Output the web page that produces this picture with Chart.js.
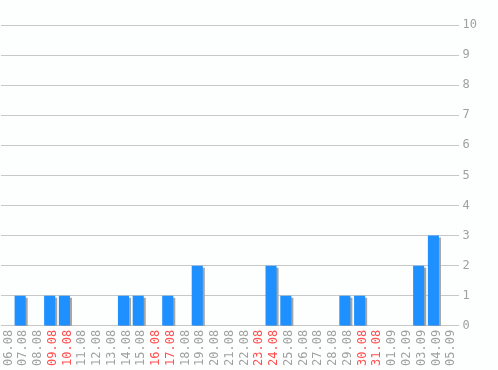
<!DOCTYPE html>
<html>
<head>
<meta charset="utf-8">
<script src="https://cdn.jsdelivr.net/npm/chart.js@4/dist/chart.umd.min.js"></script>
<style>
    html, body { margin: 0; padding: 0; background: #fdfefe; }
    #wrap { width: 498px; height: 370px; }
</style>
</head>
<body>
<div id="wrap"><canvas id="chart"></canvas></div>
<script>
// Days shown on the x axis
const days = ['06.08', '07.08', '08.08', '09.08', '10.08', '11.08', '12.08', '13.08',
    '14.08', '15.08', '16.08', '17.08', '18.08', '19.08', '20.08', '21.08', '22.08',
    '23.08', '24.08', '25.08', '26.08', '27.08', '28.08', '29.08', '30.08', '31.08',
    '01.09', '02.09', '03.09', '04.09', '05.09'];

// Count per day
const counts = [0, 1, 0, 1, 1, 0, 0, 0, 1, 1, 0, 1, 0, 2, 0, 0, 0, 0, 2, 1, 0, 0, 0,
    1, 1, 0, 0, 0, 2, 3, 0];

// Weekend days get red labels
const weekends = ['09.08', '10.08', '16.08', '17.08', '23.08', '24.08', '30.08', '31.08'];

const yMax = 10;

const font = { family: '"DejaVu Sans Mono", monospace', size: 12 };

// Gray drop shadow under the bars, bars sit a little left of the tick
const barShadow = {
    id: 'barShadow',
    beforeDatasetsDraw(chart) {
        const ctx = chart.ctx;
        ctx.save();
        ctx.translate(-3, 0);
        ctx.shadowColor = '#a4a4a4';
        ctx.shadowOffsetX = 2;
        ctx.shadowOffsetY = 2;
        ctx.shadowBlur = 0;
    },
    afterDatasetsDraw(chart) {
        chart.ctx.restore();
    }
};

new Chart(document.getElementById('chart').getContext('2d'), {
    type: 'bar',
    data: {
        labels: days,
        datasets: [{
            data: counts,
            backgroundColor: '#1e90ff',
            borderWidth: 0,
            barPercentage: 0.75,
            categoryPercentage: 1
        }]
    },
    options: {
        responsive: true,
        maintainAspectRatio: false,
        animation: false,
        layout: { padding: { left: 1, right: 17, top: 25, bottom: 0 } },
        plugins: {
            legend: { display: false },
            tooltip: { enabled: false }
        },
        scales: {
            x: {
                grid: { display: false, drawTicks: false },
                border: { display: false },
                ticks: {
                    font: font,
                    minRotation: 90,
                    maxRotation: 90,
                    autoSkip: false,
                    padding: 4,
                    color: (c) => weekends.includes(days[c.index]) ? '#ff5050' : '#a0a0a0'
                }
            },
            y: {
                position: 'right',
                min: 0,
                max: yMax,
                grid: { color: '#c8c8c8', drawTicks: false },
                border: { display: false },
                ticks: {
                    stepSize: 1,
                    font: font,
                    color: '#a0a0a0',
                    padding: 4
                }
            }
        }
    },
    plugins: [barShadow]
});
</script>
</body>
</html>
